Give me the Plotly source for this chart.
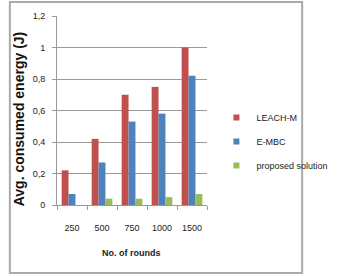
import plotly.graph_objects as go

categories = ["250", "500", "750", "1000", "1500"]
leach_m = [0.22, 0.42, 0.70, 0.75, 1.00]
e_mbc = [0.07, 0.27, 0.53, 0.58, 0.82]
proposed = [0.0, 0.04, 0.04, 0.05, 0.07]

W, H = 345, 276
L, R, T, B = 57, 113, 16, 71
pw, ph = W - L - R, H - T - B

def px(x):
    return (x - L) / pw

def py(y):
    return 1 - (y - T) / ph

fig = go.Figure()
series = [("LEACH-M", leach_m, "#C0504D"),
          ("E-MBC", e_mbc, "#4F81BD"),
          ("proposed solution", proposed, "#9BBB59")]
for name, vals, col in series:
    fig.add_trace(go.Bar(x=categories, y=vals, name=name, marker_color=col,
                         marker_line_width=0, legendgroup=name, showlegend=False))
for name, vals, col in series:
    fig.add_trace(go.Scatter(x=[None], y=[None], mode="markers", name=name,
                             marker=dict(symbol="square", size=6, color=col),
                             legendgroup=name, showlegend=True))

font = "Liberation Sans, Arial, sans-serif"
fig.update_layout(
    width=W, height=H,
    margin=dict(l=L, r=R, t=T, b=B),
    paper_bgcolor="white", plot_bgcolor="white",
    barmode="group", bargap=0.31, bargroupgap=0,
    separators=", ",
    font=dict(family=font, size=9, color="#333"),
    showlegend=True,
    legend=dict(x=px(243), y=py(103), xanchor="left", yanchor="top",
                font=dict(size=9, color="#222"), tracegroupgap=5,
                itemwidth=30, bgcolor="rgba(0,0,0,0)"),
    xaxis=dict(type="category", showgrid=False, showline=True, linecolor="#999",
               ticks="outside", ticklen=4, tickcolor="#999", tickson="boundaries",
               tickfont=dict(size=9, color="#222"), ticklabelstandoff=14),
    yaxis=dict(range=[0, 1.2], dtick=0.2, showgrid=True, gridcolor="#999",
               gridwidth=1, showline=True, linecolor="#999", ticks="outside",
               ticklen=4, tickcolor="#999", tickfont=dict(size=9, color="#222"),
               ticklabelstandoff=5, zeroline=False),
    annotations=[
        dict(text="<b>Avg. consumed energy (J)</b>", textangle=-90,
             x=px(13), y=py(119), xref="paper", yref="paper", showarrow=False,
             xanchor="center", yanchor="middle",
             font=dict(size=14, color="#111", family=font)),
        dict(text="<b>No. of rounds</b>", x=px(144), y=py(253), xref="paper",
             yref="paper", showarrow=False, xanchor="center", yanchor="middle",
             font=dict(size=9, color="#222", family=font)),
    ],
    shapes=[dict(type="rect", xref="paper", yref="paper",
                 x0=px(2), x1=px(343), y0=py(273), y1=py(2),
                 line=dict(color="#aaa", width=2))],
)
fig.write_html("out.html")
